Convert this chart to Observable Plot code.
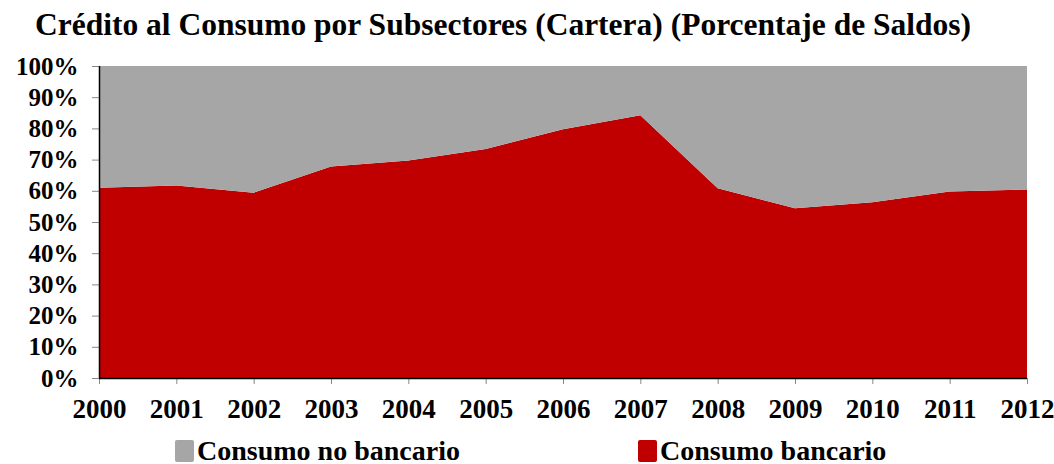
<!DOCTYPE html>
<html>
<head>
<meta charset="utf-8">
<script src="https://cdn.jsdelivr.net/npm/d3@7"></script>
<script src="https://cdn.jsdelivr.net/npm/@observablehq/plot@0.6"></script>
<style>
  html, body { margin: 0; padding: 0; background: #fff; }
  body { width: 1054px; height: 464px; overflow: hidden; font-family: "Liberation Serif", serif; font-weight: bold; }
  #title { height: 50px; line-height: 50px; text-align: center; font-size: 31.5px; color: #000; padding-right: 48px; white-space: nowrap; }
  #legend { position: relative; height: 34px; font-size: 28px; }
  .item { position: absolute; top: 10px; height: 22px; line-height: 22px; display: flex; align-items: center; }
  .sw { width: 19px; height: 22px; margin-right: 3px; border-radius: 2px; }
</style>
</head>
<body>
<div id="title">Crédito al Consumo por Subsectores (Cartera) (Porcentaje de Saldos)</div>
<div id="chart"></div>
<div id="legend"></div>
<script>
const years = [2000, 2001, 2002, 2003, 2004, 2005, 2006, 2007, 2008, 2009, 2010, 2011, 2012];
const consumoBancario = [61.0, 61.7, 59.4, 67.8, 69.7, 73.4, 79.7, 84.2, 60.8, 54.4, 56.3, 59.8, 60.4];
const consumoNoBancario = [39.0, 38.3, 40.6, 32.2, 30.3, 26.6, 20.3, 15.8, 39.2, 45.6, 43.7, 40.2, 39.6];
const yTicks = [0, 10, 20, 30, 40, 50, 60, 70, 80, 90, 100];
const seriesNames = ["Consumo no bancario", "Consumo bancario"];
const seriesColors = ["#A6A6A6", "#C00000"];

const data = [];
years.forEach((y, i) => {
  data.push({year: y, serie: seriesNames[1], value: consumoBancario[i]});
  data.push({year: y, serie: seriesNames[0], value: consumoNoBancario[i]});
});

const chart = Plot.plot({
  width: 1054,
  height: 380,
  marginTop: 16,
  marginBottom: 52,
  marginLeft: 99,
  marginRight: 27,
  style: {fontFamily: "Liberation Serif, serif", fontWeight: "bold", color: "#000", background: "#fff"},
  x: {domain: [2000, 2012], label: null},
  y: {domain: [0, 100], label: null},
  color: {domain: seriesNames, range: seriesColors},
  marks: [
    Plot.areaY(data, Plot.stackY({order: seriesNames.slice().reverse(), x: "year", y: "value", fill: "serie"})),
    Plot.axisY({ticks: yTicks, tickFormat: d => d + "%", tickSize: 7, tickPadding: 14, fontSize: 25, stroke: "#888", label: null}),
    Plot.axisX({ticks: years, tickFormat: "d", tickSize: 6, tickPadding: 14, fontSize: 27, stroke: "#888", label: null}),
    Plot.ruleX([2000], {stroke: "#000", strokeWidth: 1.5}),
    Plot.ruleY([0], {stroke: "#000", strokeWidth: 1.5})
  ]
});
document.getElementById("chart").appendChild(chart);

const legend = document.getElementById("legend");
const lx = [175, 638];
seriesNames.forEach((name, i) => {
  const it = document.createElement("div");
  it.className = "item";
  it.style.left = lx[i] + "px";
  it.innerHTML = `<div class="sw" style="background:${seriesColors[i]}"></div><span>${name}</span>`;
  legend.appendChild(it);
});
</script>
</body>
</html>
